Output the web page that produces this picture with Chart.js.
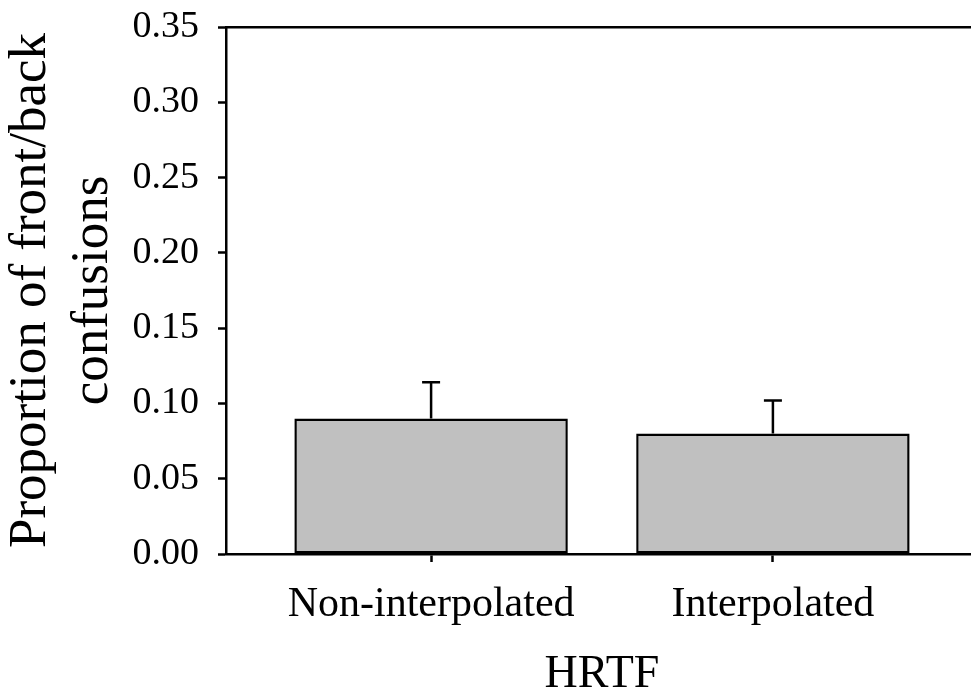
<!DOCTYPE html>
<html>
<head>
<meta charset="utf-8">
<script src="https://cdn.jsdelivr.net/npm/chart.js@4"></script>
<style>
  html, body { margin: 0; padding: 0; background: #fff; overflow: hidden; }
  #wrap { width: 971px; height: 691px; overflow: hidden; }
  canvas { display: block; }
</style>
</head>
<body>
<div id="wrap"><canvas id="c" width="980" height="691"></canvas></div>
<script>
// Proportion of front/back confusions by HRTF type (mean + one-sided error)
const categories = ['Non-interpolated', 'Interpolated'];
const proportions = [0.09, 0.08];
const errors = [0.024, 0.022];
const yTicks = [0.00, 0.05, 0.10, 0.15, 0.20, 0.25, 0.30, 0.35];

const FONT = '"Liberation Serif", "Times New Roman", serif';
const AXIS_W = 2.5;

// Upward error bars drawn from the y scale after the bars
const errorBars = {
  id: 'errorBars',
  afterDatasetsDraw(chart) {
    const { ctx, scales } = chart;
    const meta = chart.getDatasetMeta(0);
    ctx.save();
    ctx.strokeStyle = '#000';
    ctx.lineWidth = 2.5;
    meta.data.forEach((bar, i) => {
      const x = bar.x;
      const yTop = scales.y.getPixelForValue(proportions[i] + errors[i]);
      const yBase = scales.y.getPixelForValue(proportions[i]);
      ctx.beginPath();
      ctx.moveTo(x, yBase);
      ctx.lineTo(x, yTop);
      ctx.moveTo(x - 9, yTop);
      ctx.lineTo(x + 9, yTop);
      ctx.stroke();
    });
    ctx.restore();
  }
};

new Chart(document.getElementById('c'), {
  type: 'bar',
  data: {
    datasets: [{
      xAxisID: 'x',
      yAxisID: 'y',
      data: categories.map((c, i) => ({ x: i + 1, y: proportions[i] })),
      backgroundColor: '#c0c0c0',
      borderColor: '#000',
      borderWidth: 2.5,
      borderSkipped: false,
      categoryPercentage: 0.8,
      barPercentage: 1.0
    }]
  },
  options: {
    responsive: false,
    animation: false,
    devicePixelRatio: 1,
    layout: { padding: { left: 0, right: 2, top: 0, bottom: 0 } },
    plugins: { legend: { display: false }, tooltip: { enabled: false } },
    scales: {
      x: {
        type: 'linear',
        position: 'bottom',
        offset: false,
        min: 0.4,
        max: 2.6,
        afterBuildTicks(scale) {
          scale.ticks = categories.map((c, i) => ({ value: i + 1 }));
        },
        afterFit(scale) { scale.height = 137; },
        ticks: {
          color: '#000',
          font: { family: FONT, size: 42 },
          padding: 18,
          maxRotation: 0,
          autoSkip: false,
          callback: (v) => categories[Math.round(v) - 1] || ''
        },
        grid: { offset: false, drawOnChartArea: false, drawTicks: true, tickLength: 8, tickWidth: AXIS_W, tickColor: '#000' },
        border: { display: true, color: '#000', width: AXIS_W },
        title: {
          display: true,
          text: 'HRTF',
          color: '#000',
          font: { family: FONT, size: 46, lineHeight: 0.7 },
          padding: 0
        }
      },
      xTop: {
        type: 'linear',
        position: 'top',
        offset: false,
        min: 0.4,
        max: 2.6,
        afterFit(scale) { scale.height = 27; },
        ticks: { display: false },
        grid: { display: false, offset: false },
        border: { display: true, color: '#000', width: AXIS_W }
      },
      y: {
        type: 'linear',
        position: 'left',
        min: 0,
        max: 0.35,
        afterBuildTicks(scale) {
          scale.ticks = yTicks.map(v => ({ value: v }));
        },
        afterFit(scale) {
          scale.width = 226;
          scale.paddingTop = 0;
          scale.paddingBottom = 0;
        },
        ticks: {
          color: '#000',
          font: { family: FONT, size: 38 },
          padding: 19,
          callback: (v) => Number(v).toFixed(2)
        },
        grid: { drawOnChartArea: false, drawTicks: true, tickLength: 8, tickWidth: AXIS_W, tickColor: '#000' },
        border: { display: true, color: '#000', width: AXIS_W },
        title: {
          display: true,
          text: ['Proportion of front/back', 'confusions'],
          color: '#000',
          font: { family: FONT, size: 53, lineHeight: '62px' },
          padding: { top: 0, bottom: 0 }
        }
      }
    }
  },
  plugins: [errorBars]
});
</script>
</body>
</html>
